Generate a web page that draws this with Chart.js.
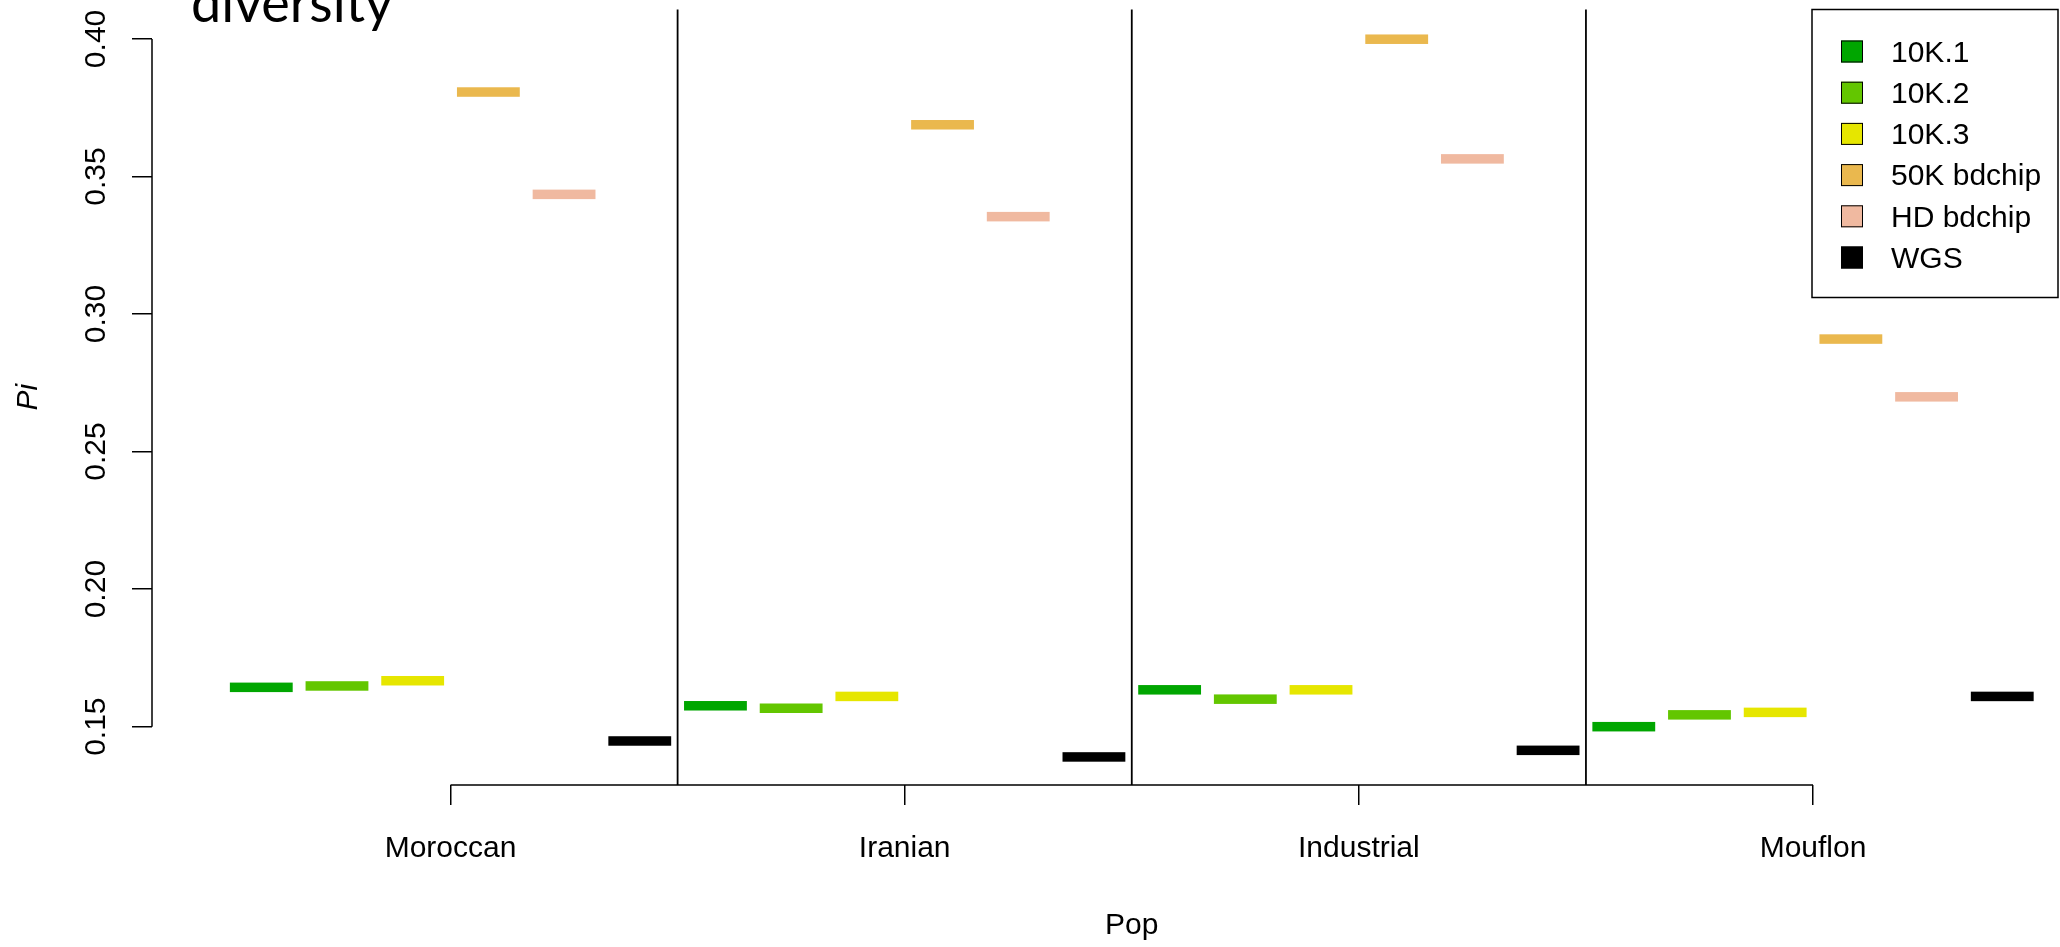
<!DOCTYPE html>
<html>
<head>
<meta charset="utf-8">
<title>Pi by population</title>
<script src="https://cdn.jsdelivr.net/npm/chart.js@4.4.1/dist/chart.umd.min.js"></script>
<style>
  html, body { margin: 0; padding: 0; background: #fff; }
  #wrap { position: relative; width: 2060px; height: 947px; overflow: hidden; }
  #note { position: absolute; left: 191px; top: -25px; font: 54px Lato, sans-serif; line-height: 54px; color: #000; }
</style>
</head>
<body>
<div id="wrap">
  <canvas id="chart" width="2060" height="947"></canvas>
  <div id="note">diversity</div>
</div>
<script>
const categories = ['Moroccan', 'Iranian', 'Industrial', 'Mouflon'];
const seriesNames = ['10K.1', '10K.2', '10K.3', '50K bdchip', 'HD bdchip', 'WGS'];
const seriesColors = ['#00A600', '#63C600', '#E6E600', '#EAB84E', '#F0B9A0', '#000000'];

// Pi per population, one array per SNP set
const pi10K1 = [0.1643, 0.1576, 0.1634, 0.1500];
const pi10K2 = [0.1648, 0.1567, 0.1600, 0.1543];
const pi10K3 = [0.1667, 0.1610, 0.1634, 0.1552];
const pi50K = [0.3807, 0.3688, 0.3999, 0.2909];
const piHD = [0.3435, 0.3354, 0.3564, 0.2699];
const piWGS = [0.1448, 0.1390, 0.1414, 0.1610];
const seriesValues = [pi10K1, pi10K2, pi10K3, pi50K, piHD, piWGS];

const yTicks = [0.15, 0.20, 0.25, 0.30, 0.35, 0.40];

const FONT = '"Liberation Sans", Arial, sans-serif';
const LINE_THICK = 9.5;

// the medians are drawn as short thick lines on top of each (invisible) bar slot
const medianLines = {
    id: 'medianLines',
    afterDatasetsDraw(chart) {
        const ctx = chart.ctx;
        ctx.save();
        chart.data.datasets.forEach((ds, i) => {
            const meta = chart.getDatasetMeta(i);
            ctx.fillStyle = ds.lineColor;
            meta.data.forEach(el => {
                ctx.fillRect(el.x - el.width / 2, el.y - LINE_THICK / 2, el.width, LINE_THICK);
            });
        });
        ctx.restore();
    }
};

// R style axes: axis line only between first and last tick, group separators, x label
const rAxes = {
    id: 'rAxes',
    beforeDatasetsDraw(chart) {
        const {ctx, chartArea, scales: {x, y}} = chart;
        ctx.save();
        ctx.strokeStyle = '#000';
        ctx.lineWidth = 1.8;
        for (let i = 1; i < categories.length; i++) {
            const px = x.getPixelForValue(i + 0.5);
            ctx.beginPath();
            ctx.moveTo(px, chartArea.top);
            ctx.lineTo(px, chartArea.bottom);
            ctx.stroke();
        }
        ctx.lineWidth = 1.5;
        ctx.beginPath();
        ctx.moveTo(chartArea.left, y.getPixelForValue(yTicks[0]));
        ctx.lineTo(chartArea.left, y.getPixelForValue(yTicks[yTicks.length - 1]));
        ctx.moveTo(x.getPixelForValue(1), chartArea.bottom);
        ctx.lineTo(x.getPixelForValue(categories.length), chartArea.bottom);
        ctx.stroke();

        ctx.fillStyle = '#000';
        ctx.font = '30px ' + FONT;
        ctx.textAlign = 'center';
        ctx.textBaseline = 'middle';
        ctx.fillText('Pop', x.getPixelForValue((1 + categories.length) / 2), x.bottom - 21);
        ctx.restore();
    }
};

const boxLegend = {
    id: 'boxLegend',
    afterDraw(chart) {
        const {ctx, chartArea} = chart;
        const w = 246, h = 288;
        const left = chartArea.right - w, top = chartArea.top;
        ctx.save();
        ctx.strokeStyle = '#000';
        ctx.lineWidth = 1.5;
        ctx.strokeRect(left, top, w, h);
        ctx.font = '30px ' + FONT;
        ctx.textBaseline = 'middle';
        ctx.textAlign = 'left';
        seriesNames.forEach((name, i) => {
            const cy = top + 42 + i * 41.2;
            ctx.fillStyle = seriesColors[i];
            ctx.fillRect(left + 29, cy - 11, 22, 22);
            ctx.lineWidth = 1;
            ctx.strokeStyle = '#000';
            ctx.strokeRect(left + 29.5, cy - 10.5, 21, 21);
            ctx.fillStyle = '#000';
            ctx.fillText(name, left + 79, cy + 2);
        });
        ctx.restore();
    }
};

const datasets = seriesNames.map((name, s) => ({
    label: name,
    data: categories.map((c, i) => ({x: i + 1, y: seriesValues[s][i]})),
    backgroundColor: 'rgba(0,0,0,0)',
    borderWidth: 0,
    lineColor: seriesColors[s],
    categoryPercentage: 1.0,
    barPercentage: 0.83
}));

new Chart(document.getElementById('chart'), {
    type: 'bar',
    data: {datasets: datasets},
    options: {
        responsive: false,
        animation: false,
        layout: {padding: {top: 9.5, right: 2, left: 0, bottom: 0}},
        plugins: {
            legend: {display: false},
            tooltip: {enabled: false}
        },
        scales: {
            x: {
                type: 'linear',
                offset: false,
                min: 0.3427,
                max: 4.5394,
                afterBuildTicks: scale => { scale.ticks = categories.map((c, i) => ({value: i + 1})); },
                afterFit: scale => { scale.height = 162; scale.paddingLeft = 0; scale.paddingRight = 0; },
                grid: {offset: false, drawOnChartArea: false, tickLength: 20, color: '#000', lineWidth: 1.5},
                border: {display: false},
                ticks: {
                    autoSkip: false,
                    maxRotation: 0,
                    padding: 26,
                    color: '#000',
                    font: {family: FONT, size: 30},
                    callback: v => categories[v - 1]
                },
                title: {display: false}
            },
            y: {
                type: 'linear',
                min: 0.1288,
                max: 0.4107,
                afterBuildTicks: scale => { scale.ticks = yTicks.map(v => ({value: v})); },
                afterFit: scale => { scale.width = 152; scale.paddingTop = 0; scale.paddingBottom = 0; },
                grid: {drawOnChartArea: false, tickLength: 20, color: '#000', lineWidth: 1.5},
                border: {display: false},
                ticks: {
                    minRotation: 90,
                    maxRotation: 90,
                    crossAlign: 'center',
                    padding: 6,
                    color: '#000',
                    font: {family: FONT, size: 30},
                    callback: v => v.toFixed(2)
                },
                title: {display: true, text: 'Pi', color: '#000', font: {family: FONT, size: 30, style: 'italic'}, padding: {top: 11, bottom: 0}}
            }
        }
    },
    plugins: [rAxes, medianLines, boxLegend]
});
</script>
</body>
</html>
